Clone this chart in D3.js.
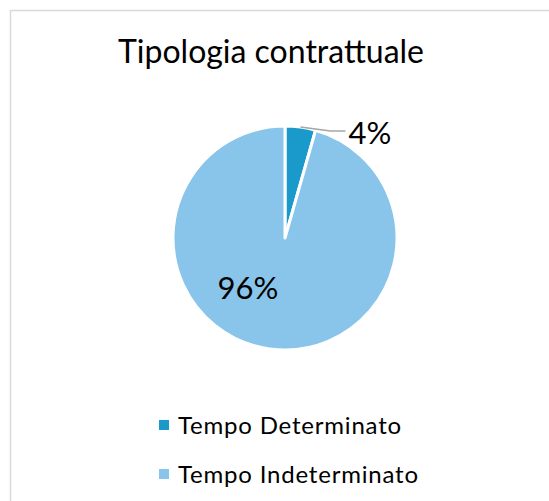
<!DOCTYPE html>
<html>
<head>
<meta charset="utf-8">
<script src="https://cdn.jsdelivr.net/npm/d3@7"></script>
<style>
  body { margin: 0; background: #fff; }
  svg text { font-family: "Century Gothic", "URW Gothic", Lato, "Open Sans", sans-serif; fill: #000; }
</style>
</head>
<body>
<div id="chart"></div>
<script>
// chart data
var title = "Tipologia contrattuale";
var categories = ["Tempo Determinato", "Tempo Indeterminato"];
var values = [4.4, 95.6];
var colors = ["#1a9acb", "#89c4ea"];

var width = 549, height = 501;
var cx = 285, cy = 238, radius = 112;

var svg = d3.select("#chart").append("svg")
    .attr("width", width)
    .attr("height", height);

// chart area border (runs off the right and bottom edge)
svg.append("rect")
    .attr("x", 10.5).attr("y", 10.5)
    .attr("width", 600).attr("height", 600)
    .attr("fill", "#fff")
    .attr("stroke", "#d9d9d9")
    .attr("stroke-width", 1.5);

svg.append("text")
    .attr("x", 271).attr("y", 63)
    .attr("text-anchor", "middle")
    .style("font-size", "32px")
    .text(title);

var total = d3.sum(values);
var pie = d3.pie().sort(null)(values);
var arc = d3.arc().innerRadius(0).outerRadius(radius);

var g = svg.append("g").attr("transform", "translate(" + cx + "," + cy + ")");

g.selectAll("path.slice")
    .data(pie)
    .enter().append("path")
    .attr("class", "slice")
    .attr("d", arc)
    .attr("fill", function(d, i) { return colors[i]; })
    .attr("stroke", "#fff")
    .attr("stroke-width", 3)
    .attr("stroke-linejoin", "round");

var fmt = function(v) { return Math.round(v / total * 100) + "%"; };

// small slice: label outside with leader line
var s0 = pie[0];
var mid0 = (s0.startAngle + s0.endAngle) / 2;
var p0 = [Math.sin(mid0) * radius, -Math.cos(mid0) * radius];
g.append("path")
    .attr("d", d3.line()([p0, [p0[0] + 30, p0[1] + 4], [p0[0] + 45, p0[1] + 4]]))
    .attr("fill", "none")
    .attr("stroke", "#a6a6a6")
    .attr("stroke-width", 1.5);
g.append("text")
    .attr("x", p0[0] + 48).attr("y", p0[1] + 17)
    .style("font-size", "31px")
    .text(fmt(values[0]));

// large slice: label inside, lower left
g.append("text")
    .attr("x", -37).attr("y", 61)
    .attr("text-anchor", "middle")
    .style("font-size", "31px")
    .text(fmt(values[1]));

// legend
var legend = svg.append("g").selectAll("g")
    .data(categories)
    .enter().append("g")
    .attr("transform", function(d, i) { return "translate(159," + (434 + i * 49) + ")"; });
legend.append("rect")
    .attr("x", 0).attr("y", -14)
    .attr("width", 10).attr("height", 10)
    .attr("fill", function(d, i) { return colors[i]; });
legend.append("text")
    .attr("x", 19).attr("y", 0)
    .style("font-size", "24px")
    .style("letter-spacing", "0.8px")
    .text(function(d) { return d; });
</script>
</body>
</html>
